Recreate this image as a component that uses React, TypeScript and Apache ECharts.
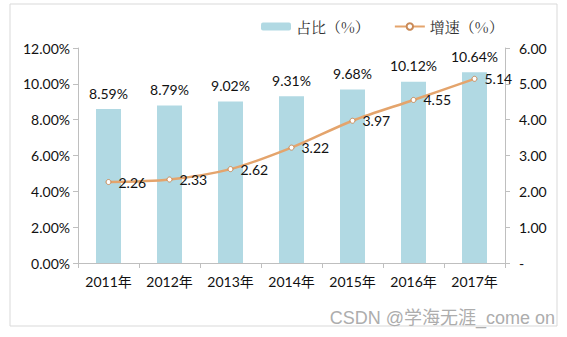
import React, { useEffect, useRef } from "react";
import * as echarts from "echarts";

const categories = ["2011年", "2012年", "2013年", "2014年", "2015年", "2016年", "2017年"];
const shareValues = [8.59, 8.79, 9.02, 9.31, 9.68, 10.12, 10.64];
const growthValues = [2.26, 2.33, 2.62, 3.22, 3.97, 4.55, 5.14];
const seriesNames = ["占比（%）", "增速（%）"];
const watermark = "CSDN @学海无涯_come on";

const FONT = "Lato, 'Noto Sans CJK SC', sans-serif";

export default function App() {
  const ref = useRef<HTMLDivElement>(null);
  useEffect(() => {
    if (!ref.current) return;
    const chart = echarts.init(ref.current, null, { renderer: "svg" });
    chart.setOption({
      animation: false,
      backgroundColor: "#fff",
      textStyle: { fontFamily: FONT },
      graphic: [
        {
          type: "rect",
          shape: { x: 10, y: 4, width: 547, height: 322 },
          style: { fill: "none", stroke: "#d9d9d9", lineWidth: 1 },
          z: -1,
        },
        {
          type: "text",
          x: 555,
          y: 318,
          style: {
            text: watermark,
            align: "right",
            verticalAlign: "middle",
            fill: "#adadad",
            font: "18px 'Liberation Sans', 'Noto Sans CJK SC', sans-serif",
          },
          z: 100,
        },
      ],
      legend: {
        left: 256,
        top: 14,
        itemGap: 24,
        itemWidth: 30,
        itemHeight: 8,
        textStyle: { fontSize: 15, color: "#333", fontFamily: "'Noto Serif CJK SC', 'Noto Sans CJK SC', serif" },
        data: seriesNames,
      },
      grid: { left: 78, right: 62, top: 48, bottom: 74 },
      xAxis: {
        type: "category",
        data: categories,
        axisLine: { lineStyle: { color: "#bfbfbf" } },
        axisTick: { show: true, length: 5, lineStyle: { color: "#bfbfbf" } },
        axisLabel: { color: "#111", fontSize: 14, margin: 11, fontFamily: FONT },
      },
      yAxis: [
        {
          type: "value",
          min: 0,
          max: 12,
          interval: 2,
          axisLine: { show: true, lineStyle: { color: "#bfbfbf" } },
          axisTick: { show: true, length: 5, lineStyle: { color: "#bfbfbf" } },
          splitLine: { show: false },
          axisLabel: {
            color: "#111",
            fontSize: 14,
            margin: 8,
            formatter: (v: number) => v.toFixed(2) + "%",
          },
        },
        {
          type: "value",
          min: 0,
          max: 6,
          interval: 1,
          position: "right",
          axisLine: { show: true, lineStyle: { color: "#bfbfbf" } },
          axisTick: { show: true, length: 5, lineStyle: { color: "#bfbfbf" } },
          splitLine: { show: false },
          axisLabel: {
            color: "#111",
            fontSize: 14,
            margin: 14,
            formatter: (v: number) => (v === 0 ? "-" : v.toFixed(2)),
          },
        },
      ],
      series: [
        {
          name: seriesNames[0],
          type: "bar",
          data: shareValues,
          barWidth: 25,
          itemStyle: { color: "#b1d9e3" },
          label: {
            show: true,
            position: "top",
            distance: 9,
            color: "#111",
            fontSize: 14,
            formatter: (p: any) => Number(p.value).toFixed(2) + "%",
          },
        },
        {
          name: seriesNames[1],
          type: "line",
          yAxisIndex: 1,
          data: growthValues,
          smooth: 0.3,
          symbol: "circle",
          symbolSize: 5,
          lineStyle: { color: "#e4a46c", width: 2.5 },
          itemStyle: { color: "#fff", borderColor: "#c98a58", borderWidth: 1 },
          label: {
            show: true,
            position: "right",
            distance: 7,
            color: "#111",
            fontSize: 14,
            formatter: (p: any) => Number(p.value).toFixed(2),
          },
          z: 3,
        },
      ],
    });
    return () => chart.dispose();
  }, []);
  return (
    <div
      ref={ref}
      style={{ position: "fixed", left: 0, top: 0, width: 567, height: 337 }}
    />
  );
}
